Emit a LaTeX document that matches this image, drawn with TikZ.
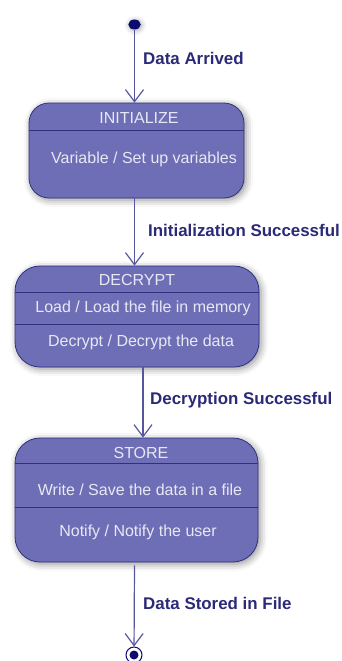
\documentclass[tikz,border=0pt]{standalone}
\usepackage{fontspec}
\setmainfont{Liberation Sans}
\usetikzlibrary{arrows.meta,shadows.blur,shapes.geometric}

\definecolor{statefill}{HTML}{6E6EB6}
\definecolor{stateline}{HTML}{30307F}
\definecolor{statetext}{HTML}{E8E8F4}
\definecolor{flowline}{HTML}{5656A0}
\definecolor{flowtext}{HTML}{2A2A78}
\definecolor{dotfill}{HTML}{0C0C6E}

\tikzset{
  statebox/.style={draw=stateline, line width=0.8pt, fill=statefill,
    rounded corners=20pt, inner sep=0pt,
    blur shadow={shadow xshift=2pt, shadow yshift=-2pt,
      shadow blur radius=7pt, shadow opacity=45}},
  divider/.style={draw=stateline, line width=0.8pt},
  boxtext/.style={text=statetext, font=\fontsize{16}{18}\selectfont, inner sep=0pt},
  flow/.style={draw=flowline, line width=1.2pt,
    -{Straight Barb[length=12pt, width=18pt, line width=1.2pt]}},
  flowlabel/.style={text=flowtext, font=\bfseries\fontsize{16.9}{19}\selectfont,
    anchor=west, inner sep=0pt},
}

\begin{document}
\begin{tikzpicture}[x=1pt, y=-1pt]
\useasboundingbox (0,0) rectangle (341,661);

% initial pseudo-state
\node[ellipse, fill=dotfill, minimum width=12.5pt, minimum height=10pt, inner sep=0pt,
  blur shadow={shadow xshift=1pt, shadow yshift=-1pt, shadow blur radius=5pt, shadow opacity=35}]
  (start) at (134.5,24.5) {};

% INITIALIZE state
\node[statebox, minimum width=215pt, minimum height=95pt] (init) at (136.5,150.5) {};
\draw[divider] (init.west |- 0,130) -- (init.east |- 0,130);
\node[boxtext] (initT) at (139,118) {INITIALIZE};
\node[boxtext] (initA) at (144,159) {Variable / Set up variables};

% DECRYPT state
\node[statebox, minimum width=244pt, minimum height=101pt, rounded corners=25pt] (dec) at (137,316.5) {};
\draw[divider] (dec.west |- 0,292) -- (dec.east |- 0,292);
\draw[divider] (dec.west |- 0,324) -- (dec.east |- 0,324);
\node[boxtext] (decT) at (137,280) {DECRYPT};
\node[boxtext] (decA) at (143,308) {Load / Load the file in memory};
\node[boxtext] (decB) at (141,342) {Decrypt / Decrypt the data};

% STORE state
\node[statebox, minimum width=243pt, minimum height=124pt, rounded corners=25pt] (store) at (136.5,500) {};
\draw[divider] (store.west |- 0,463) -- (store.east |- 0,463);
\draw[divider] (store.west |- 0,507) -- (store.east |- 0,507);
\node[boxtext] (storeT) at (141,453) {STORE};
\node[boxtext] (storeA) at (140,490) {Write / Save the data in a file};
\node[boxtext] (storeB) at (138,532) {Notify / Notify the user};

% final pseudo-state
\node[circle, draw=dotfill, line width=1pt, fill=white, minimum size=16pt, inner sep=0pt] (final) at (134,655) {};
\node[circle, fill=dotfill, minimum size=9pt, inner sep=0pt] (finalIn) at (final.center) {};

% transitions
\draw[flow] (start) -- (start |- init.north);
\draw[flow] (init.south -| start) -- (start |- dec.north);
\draw[flow] ([xshift=6pt]dec.south) -- ([xshift=6pt]dec.south |- store.north);
\draw[flow] ([yshift=-3pt]store.south -| start) -- (final);

% transition labels
\node[flowlabel] (l1) at (143,58) {Data Arrived};
\node[flowlabel] (l2) at (148,230) {Initialization Successful};
\node[flowlabel] (l3) at (150,400) {Decryption Successful};
\node[flowlabel] (l4) at (143,603) {Data Stored in File};
\end{tikzpicture}
\end{document}
